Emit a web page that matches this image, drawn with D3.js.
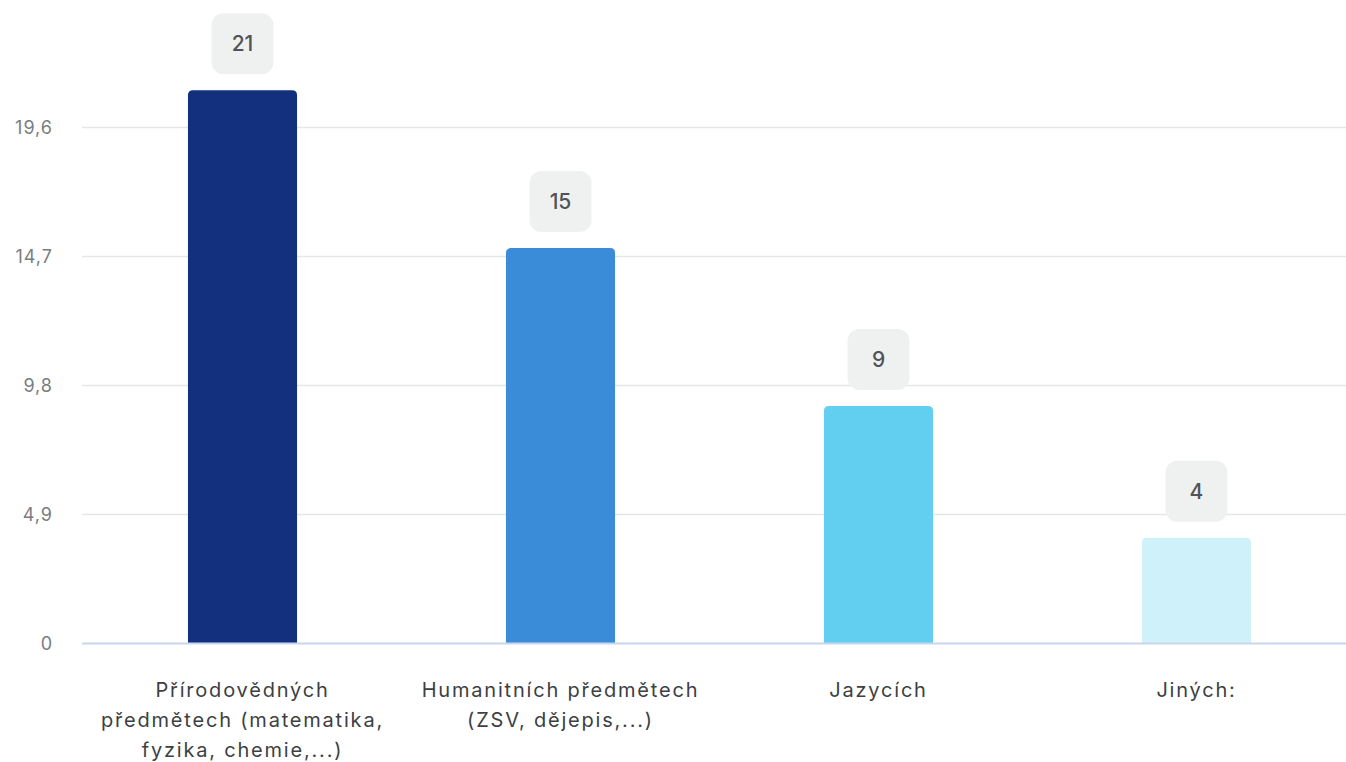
<!DOCTYPE html>
<html><head><meta charset="utf-8">
<script src="https://cdn.jsdelivr.net/npm/d3@7"></script>
<style>
html,body{margin:0;padding:0;background:#fff;}
svg{display:block;font-family:Inter, "Noto Sans", sans-serif;}
</style></head>
<body><svg id="c" width="1346" height="762"></svg>
<script>
const categories = ["Přírodovědných předmětech (matematika, fyzika, chemie,...)", "Humanitních předmětech (ZSV, dějepis,...)", "Jazycích", "Jiných:"];
const values = [21, 15, 9, 4];
const colors = ["#13307f", "#3a8bd8", "#62cef0", "#cff1f9"];
const yTicks = [0, 4.9, 9.8, 14.7, 19.6];
const yTickLabels = ["0", "4,9", "9,8", "14,7", "19,6"];

const svg = d3.select("#c");
const W = 1346, H = 762;
const plotLeft = 83.5, plotRight = 1355.5, baseY = 643;
const x = d3.scaleBand().domain(categories).range([plotLeft, plotRight]).paddingInner(0.657).paddingOuter(0.3285);
const y = d3.scaleLinear().domain([0, 19.6]).range([baseY, 127]);

// grid lines
svg.append("g").selectAll("line").data(yTicks.slice(1)).join("line")
  .attr("x1", 82).attr("x2", W).attr("y1", d => Math.round(y(d)) + 0.5).attr("y2", d => Math.round(y(d)) + 0.5)
  .attr("stroke", "#e4e6e8").attr("stroke-width", 1.5);

// y axis labels
const yAxis = d3.axisLeft(y).tickValues(yTicks).tickFormat((d, i) => yTickLabels[i]).tickSize(0).tickPadding(0);
const yg = svg.append("g").attr("transform", "translate(53,0)").call(yAxis);
yg.select(".domain").remove();
yg.selectAll("text").attr("fill", "#7a7d80").style("font-size", "18px").style("font-family", "Inter, sans-serif").attr("dy", "0.35em").style("letter-spacing", "1px");

// bars
const bw = x.bandwidth();
const r = 5;
svg.append("g").selectAll("path").data(values).join("path")
  .attr("fill", (d, i) => colors[i])
  .attr("d", (d, i) => {
    const x0 = x(categories[i]), x1 = x0 + bw, y0 = y(d), y1 = baseY;
    return `M${x0},${y1}V${y0 + r}Q${x0},${y0} ${x0 + r},${y0}H${x1 - r}Q${x1},${y0} ${x1},${y0 + r}V${y1}Z`;
  });

// baseline
svg.append("line").attr("x1", 82).attr("x2", W).attr("y1", baseY + 0.5).attr("y2", baseY + 0.5)
  .attr("stroke", "#c9d5ee").attr("stroke-width", 2);

// value labels in boxes
const lab = svg.append("g").selectAll("g").data(values).join("g")
  .attr("transform", (d, i) => `translate(${x(categories[i]) + bw / 2},${y(d) - 16 - 30.5})`);
lab.append("rect").attr("x", -31).attr("y", -30.5).attr("width", 62).attr("height", 61).attr("rx", 12)
  .attr("fill", "#eff1f1");
lab.append("text").text(d => d).attr("text-anchor", "middle").attr("dy", "0.36em")
  .attr("fill", "#505458").style("font-size", "21px").style("font-weight", "500");

// category labels with wrapping
const maxW = 292;
const catG = svg.append("g");
categories.forEach((c, i) => {
  const t = catG.append("text").attr("text-anchor", "middle")
    .attr("x", x(c) + bw / 2).attr("y", 697)
    .attr("fill", "#3c3f43").style("font-size", "20px").style("letter-spacing", "1.8px");
  const words = c.split(" ");
  let line = [], lines = [];
  const probe = t.append("tspan");
  words.forEach(w => {
    const test = line.concat([w]).join(" ");
    probe.text(test);
    if (probe.node().getComputedTextLength() > maxW && line.length) {
      lines.push(line.join(" "));
      line = [w];
    } else line.push(w);
  });
  lines.push(line.join(" "));
  probe.remove();
  lines.forEach((l, k) => {
    t.append("tspan").attr("x", x(c) + bw / 2).attr("y", 697 + k * 30).text(l);
  });
});
</script></body></html>
